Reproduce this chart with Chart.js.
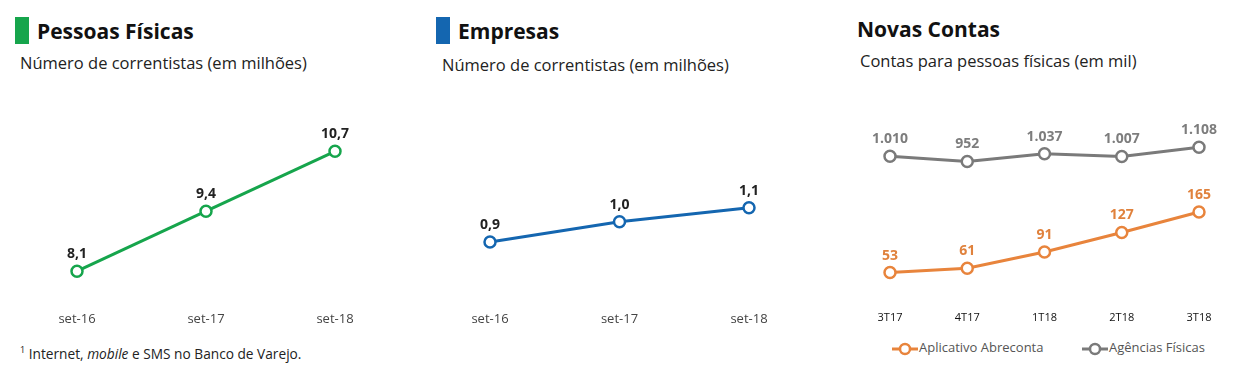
<!DOCTYPE html>
<html>
<head>
<meta charset="utf-8">
<script src="https://cdn.jsdelivr.net/npm/chart.js@4.4.1/dist/chart.umd.min.js"></script>
<style>
  body { margin: 0; width: 1237px; height: 379px; background: #fff; position: relative; overflow: hidden; font-family: "Open Sans", sans-serif; color: #111; }
  .abs { position: absolute; white-space: nowrap; }
  .title { font-size: 21px; font-weight: 700; line-height: 24px; }
  .sub { font-size: 16.5px; line-height: 20px; color: #222; }
  .bar { position: absolute; width: 14px; height: 27px; }
  canvas { position: absolute; }
  .leg { position: absolute; top: 338px; font-size: 13px; color: #555; white-space: nowrap; }
  .leg canvas { position: static; vertical-align: middle; margin-right: 1px; }
</style>
</head>
<body>
<div class="bar" style="left:15px;top:17px;background:#16a54c"></div>
<div class="abs title" style="left:37px;top:19px">Pessoas Físicas</div>
<div class="abs sub" style="left:20px;top:53px">Número de correntistas (em milhões)</div>

<div class="bar" style="left:436px;top:17px;background:#1466b0"></div>
<div class="abs title" style="left:458px;top:19px">Empresas</div>
<div class="abs sub" style="left:442px;top:55px">Número de correntistas (em milhões)</div>

<div class="abs title" style="left:857px;top:17px">Novas Contas</div>
<div class="abs sub" style="left:860px;top:51px">Contas para pessoas físicas (em mil)</div>

<div class="abs" style="left:20px;top:343px;font-size:13.7px;color:#222"><sup style="font-size:9px">1</sup> Internet, <i>mobile</i> e SMS no Banco de Varejo.</div>

<canvas id="c1" width="410" height="237" style="left:0;top:97px"></canvas>
<canvas id="c2" width="420" height="237" style="left:410px;top:97px"></canvas>
<canvas id="c3" width="407" height="235" style="left:830px;top:96px"></canvas>

<div class="leg" id="leg1" style="left:892px"></div>
<div class="leg" id="leg2" style="left:1082px"></div>

<script>
// Pessoas Físicas
const pfLabels = ["set-16", "set-17", "set-18"];
const pfValues = [8.1, 9.4, 10.7];
// Empresas
const pjLabels = ["set-16", "set-17", "set-18"];
const pjValues = [0.91, 1.01, 1.08];
// Novas Contas
const ncLabels = ["3T17", "4T17", "1T18", "2T18", "3T18"];
const appValues = [53, 61, 91, 127, 165];
const agValues = [1010, 952, 1037, 1007, 1108];

const FONT = "'Open Sans', sans-serif";

// draws the value above each point
const valueLabels = {
  id: "valueLabels",
  afterDatasetsDraw(chart) {
    const ctx = chart.ctx;
    chart.data.datasets.forEach((ds, i) => {
      const meta = chart.getDatasetMeta(i);
      ctx.save();
      ctx.font = "bold 14px " + FONT;
      ctx.fillStyle = ds.labelColor;
      ctx.textAlign = "center";
      ctx.textBaseline = "bottom";
      meta.data.forEach((pt, j) => {
        ctx.fillText(ds.fmt(ds.data[j]), pt.x, pt.y - 10);
      });
      ctx.restore();
    });
  }
};

function fmtDec(v) { return v.toFixed(1).replace(".", ","); }
function fmtInt(v) { return v.toLocaleString("pt-BR"); }

function xAxis(size, color) {
  return {
    grid: { display: false, drawTicks: false },
    border: { display: false },
    ticks: { color: color, font: { family: FONT, size: size }, padding: 7 }
  };
}

function lineSet(data, color, labelColor, fmt, label) {
  return {
    label: label,
    data: data,
    borderColor: color,
    backgroundColor: "#fff",
    borderWidth: 3,
    pointRadius: 5.5,
    pointHoverRadius: 5.5,
    pointBorderWidth: 2.5,
    pointBackgroundColor: "#fff",
    labelColor: labelColor,
    fmt: fmt
  };
}

new Chart(document.getElementById("c1"), {
  type: "line",
  data: { labels: pfLabels, datasets: [lineSet(pfValues, "#16a54c", "#222", fmtDec, "PF")] },
  options: {
    responsive: false, animation: false,
    layout: { padding: { left: 77, right: 75, top: 10, bottom: 0 } },
    plugins: { legend: { display: false }, tooltip: { enabled: false } },
    scales: {
      x: xAxis(13, "#444"),
      y: { display: false, min: 7.38, max: 11.66 }
    }
  },
  plugins: [valueLabels]
});

new Chart(document.getElementById("c2"), {
  type: "line",
  data: { labels: pjLabels, datasets: [lineSet(pjValues, "#1466b0", "#222", fmtDec, "PJ")] },
  options: {
    responsive: false, animation: false,
    layout: { padding: { left: 80, right: 81, top: 10, bottom: 0 } },
    plugins: { legend: { display: false }, tooltip: { enabled: false } },
    scales: {
      x: xAxis(13, "#444"),
      y: { display: false, min: 0.60, max: 1.58 }
    }
  },
  plugins: [valueLabels]
});

function legendIcon(color) {
  const c = document.createElement("canvas");
  c.width = 26; c.height = 14;
  const g = c.getContext("2d");
  g.strokeStyle = color; g.lineWidth = 3;
  g.beginPath(); g.moveTo(0, 7); g.lineTo(26, 7); g.stroke();
  g.fillStyle = "#fff"; g.lineWidth = 2.5;
  g.beginPath(); g.arc(13, 7, 5, 0, Math.PI * 2); g.fill(); g.stroke();
  return c;
}

const app = lineSet(appValues, "#e8843c", "#e0823d", fmtInt, "Aplicativo Abreconta");
app.yAxisID = "y";
const ag = lineSet(agValues, "#7a7a7a", "#7d7d7d", fmtInt, "Agências Físicas");
ag.yAxisID = "y2";

const c3 = new Chart(document.getElementById("c3"), {
  type: "line",
  data: { labels: ncLabels, datasets: [app, ag] },
  options: {
    responsive: false, animation: false,
    layout: { padding: { left: 60, right: 38, top: 10, bottom: 0 } },
    plugins: { legend: { display: false }, tooltip: { enabled: false } },
    scales: {
      x: xAxis(11, "#111"),
      y: { display: false, min: -4.8, max: 360.9 },
      y2: { display: false, min: -614.7, max: 1563 }
    }
  },
  plugins: [valueLabels]
});

// legend built from the chart's own datasets
c3.data.datasets.forEach((ds, i) => {
  const el = document.getElementById("leg" + (i + 1));
  el.appendChild(legendIcon(ds.borderColor));
  el.appendChild(document.createTextNode(ds.label));
});
</script>
</body>
</html>
